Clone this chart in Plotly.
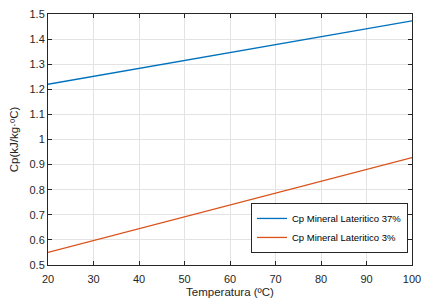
import plotly.graph_objects as go

temperatura = [20, 30, 40, 50, 60, 70, 80, 90, 100]
cp_37 = [1.220, 1.252, 1.283, 1.315, 1.346, 1.378, 1.410, 1.441, 1.473]
cp_3 = [0.550, 0.597, 0.645, 0.692, 0.739, 0.786, 0.834, 0.881, 0.928]
x_ticks = [20, 30, 40, 50, 60, 70, 80, 90, 100]
y_ticks = [0.5, 0.6, 0.7, 0.8, 0.9, 1.0, 1.1, 1.2, 1.3, 1.4, 1.5]
y_labels = ["0.5", "0.6", "0.7", "0.8", "0.9", "1", "1.1", "1.2", "1.3", "1.4", "1.5"]

fig = go.Figure()
fig.add_trace(go.Scatter(x=temperatura, y=cp_37, mode="lines",
                         name="Cp Mineral Lateritico 37%",
                         line=dict(color="#0072BD", width=1.3)))
fig.add_trace(go.Scatter(x=temperatura, y=cp_3, mode="lines",
                         name="Cp Mineral Lateritico 3%",
                         line=dict(color="#D95319", width=1.3)))

axis_common = dict(showline=True, linecolor="#262626", linewidth=1, mirror="ticks",
                   ticks="inside", ticklen=4, tickcolor="#262626", automargin=False,
                   showgrid=True, gridcolor="#E3E3E3", gridwidth=1, zeroline=False,
                   ticklabeloverflow="allow",
                   tickfont=dict(family="Liberation Sans, Arial", size=11, color="#262626"))

# page body has an 8px margin, so the figure is 8px smaller and offset
fig.update_layout(
    width=424, height=292,
    margin=dict(l=40, r=20, t=6, b=35, autoexpand=False),
    paper_bgcolor="white", plot_bgcolor="white",
    font=dict(family="Liberation Sans, Arial", size=11, color="#262626"),
    xaxis=dict(range=[20, 100], tickvals=x_ticks, ticklabelstandoff=4,
               title=dict(text="Temperatura (ºC)", standoff=3,
                          font=dict(size=11.5, color="#262626")),
               **axis_common),
    yaxis=dict(range=[0.5, 1.5], tickvals=y_ticks, ticktext=y_labels,
               title=dict(text="Cp(kJ/kg·ºC)", standoff=12,
                          font=dict(size=11.5, color="#262626")),
               **axis_common),
    legend=dict(x=0.989, y=0.048, xanchor="right", yanchor="bottom",
                bgcolor="white", bordercolor="#262626", borderwidth=1,
                font=dict(size=9.5, color="#000000"),
                tracegroupgap=0, itemwidth=30),
    showlegend=True,
)

fig.write_html("out.html")
